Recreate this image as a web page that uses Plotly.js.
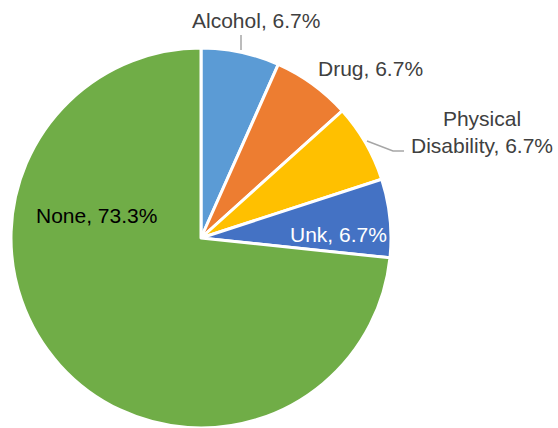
<!DOCTYPE html>
<html>
<head>
<meta charset="utf-8">
<script src="https://cdn.plot.ly/plotly-3.0.1.min.js"></script>
<style>html,body{margin:0;padding:0;background:#fff;}#chart{width:558px;height:428px;}</style>
</head>
<body>
<div id="chart"></div>
<script>
const categories = ["Alcohol", "Drug", "Physical Disability", "Unk", "None"];
const counts = [1, 1, 1, 1, 11];
const colors = ["#5B9BD5", "#ED7D31", "#FFC000", "#4472C4", "#70AD47"];
const labelText = ["Alcohol", "Drug", "Physical<br>Disability", "Unk", "None"];

const W = 558, H = 428;
const px = x => x / W;
const py = y => 1 - y / H;

const total = counts.reduce((a, b) => a + b, 0);
const pct = counts.map(v => (100 * v / total).toFixed(1) + "%");

// label placement (pixels) – layout only
const labelPos = [
  {x: 256, y: 20, color: "#404040"},
  {x: 370, y: 68, color: "#404040"},
  {x: 482, y: 132, color: "#404040"},
  {x: 338, y: 234, color: "#FFFFFF"},
  {x: 96, y: 215, color: "#000000"}
];

const annotations = categories.map((c, i) => ({
  xref: "paper", yref: "paper",
  x: px(labelPos[i].x), y: py(labelPos[i].y),
  xanchor: "center", yanchor: "middle",
  text: labelText[i] + ", " + pct[i],
  showarrow: false,
  font: {family: "Liberation Sans, Arial, sans-serif", size: 21, color: labelPos[i].color}
}));

const lineStyle = {color: "#A6A6A6", width: 1.5};
const shapes = [
  {type: "path", xref: "paper", yref: "paper",
   path: `M ${px(241)} ${py(35)} L ${px(241)} ${py(50)}`, line: lineStyle},
  {type: "path", xref: "paper", yref: "paper",
   path: `M ${px(367)} ${py(141)} L ${px(393)} ${py(151)} L ${px(404)} ${py(151)}`, line: lineStyle}
];

const trace = {
  type: "pie",
  labels: categories,
  values: counts,
  sort: false,
  direction: "clockwise",
  rotation: 0,
  textinfo: "none",
  hoverinfo: "label+percent",
  marker: {colors: colors, line: {color: "#FFFFFF", width: 3}},
  domain: {x: [px(11), px(391)], y: [py(428), py(48)]},
  showlegend: false
};

Plotly.newPlot("chart", [trace], {
  width: W, height: H,
  margin: {l: 0, r: 0, t: 0, b: 0},
  paper_bgcolor: "#FFFFFF",
  showlegend: false,
  annotations: annotations,
  shapes: shapes
}, {displayModeBar: false, staticPlot: true});
</script>
</body>
</html>
